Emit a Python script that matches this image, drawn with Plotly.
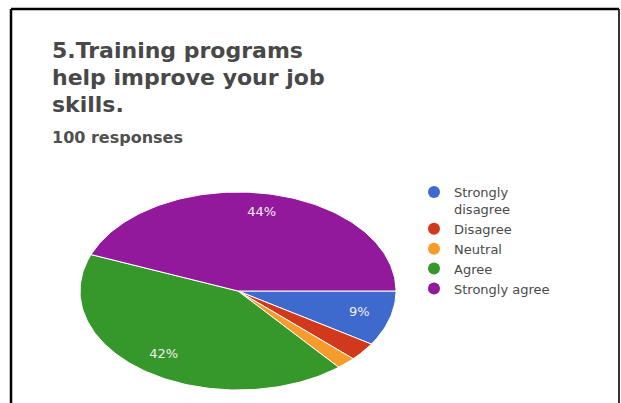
import numpy as np
import plotly.graph_objects as go

# Survey answers (percent of 100 responses)
categories = ["Strongly disagree", "Disagree", "Neutral", "Agree", "Strongly agree"]
legend_labels = ["Strongly<br>disagree", "Disagree", "Neutral", "Agree", "Strongly agree"]
values = [9, 3, 2, 42, 44]
colors = ["#3d6acc", "#d2391c", "#f79c2a", "#36972a", "#92199b"]

title_lines = ["5.Training programs", "help improve your job", "skills."]
subtitle = "100 responses"

W, H = 621, 403
# pie centre and radii in pixels (the pie is drawn as an ellipse)
cx, cy, rx, ry = 238, 291, 158, 99

fig = go.Figure()

total = float(sum(values))
start = 0.0
for cat, lab, v, col in zip(categories, legend_labels, values, colors):
    a0 = start / total * 2 * np.pi
    a1 = (start + v) / total * 2 * np.pi
    t = np.linspace(a0, a1, max(int(v * 3), 8))
    # clockwise from 3 o'clock
    xs = np.concatenate([[0.0], np.cos(-t), [0.0]])
    ys = np.concatenate([[0.0], np.sin(-t), [0.0]])
    fig.add_trace(go.Scatter(
        x=xs, y=ys, mode="lines", fill="toself", fillcolor=col,
        line=dict(color="white", width=1), name=cat, legendgroup=cat,
        showlegend=False, hoverinfo="name",
    ))
    if v / total >= 0.05:
        mid = (a0 + a1) / 2
        fig.add_trace(go.Scatter(
            x=[0.8 * np.cos(-mid)], y=[0.8 * np.sin(-mid)], mode="text",
            text=[f"{v / total * 100:.0f}%"],
            textfont=dict(family="DejaVu Sans", size=13, color="#f4eef6"),
            showlegend=False, hoverinfo="skip",
        ))
    start += v

# legend entries with round markers
for cat, lab, col in zip(categories, legend_labels, colors):
    fig.add_trace(go.Scatter(
        x=[None], y=[None], mode="markers", name=lab, legendgroup=cat,
        marker=dict(symbol="circle", size=12, color=col),
    ))

# title lines, placed one by one for tighter line spacing
annotations = []
for i, line in enumerate(title_lines):
    annotations.append(dict(
        text=line, x=50 / W, y=1 - (50 + 27 * i) / H,
        xref="paper", yref="paper", xanchor="left", yanchor="middle",
        align="left", showarrow=False,
        font=dict(family="DejaVu Sans", size=22, weight="bold", color="#484848"),
    ))
annotations.append(dict(
    text=subtitle, x=50 / W, y=1 - 137 / H,
    xref="paper", yref="paper", xanchor="left", yanchor="middle",
    align="left", showarrow=False,
    font=dict(family="DejaVu Sans", size=16, weight="bold", color="#505050"),
))

fig.update_layout(
    width=W, height=H,
    margin=dict(l=0, r=0, t=0, b=0),
    paper_bgcolor="white", plot_bgcolor="white",
    xaxis=dict(range=[(0 - cx) / rx, (W - cx) / rx], visible=False, fixedrange=True),
    yaxis=dict(range=[-(H - cy) / ry, cy / ry], visible=False, fixedrange=True),
    showlegend=True,
    legend=dict(
        x=414 / W, xanchor="left", y=1 - 177 / H, yanchor="top",
        font=dict(family="DejaVu Sans", size=13, color="#4a4a4a"),
        itemwidth=30, valign="top", bgcolor="rgba(0,0,0,0)",
        tracegroupgap=0,
    ),
    annotations=annotations,
    shapes=[
        dict(type="line", xref="paper", yref="paper", x0=11 / W, x1=11 / W,
             y0=0, y1=1 - 9 / H, line=dict(color="black", width=2.5)),
        dict(type="line", xref="paper", yref="paper", x0=11 / W, x1=619 / W,
             y0=1 - 9 / H, y1=1 - 9 / H, line=dict(color="black", width=2.5)),
        dict(type="line", xref="paper", yref="paper", x0=619 / W, x1=619 / W,
             y0=0, y1=1 - 9 / H, line=dict(color="#333333", width=2)),
    ],
)

fig.write_html("out.html")
